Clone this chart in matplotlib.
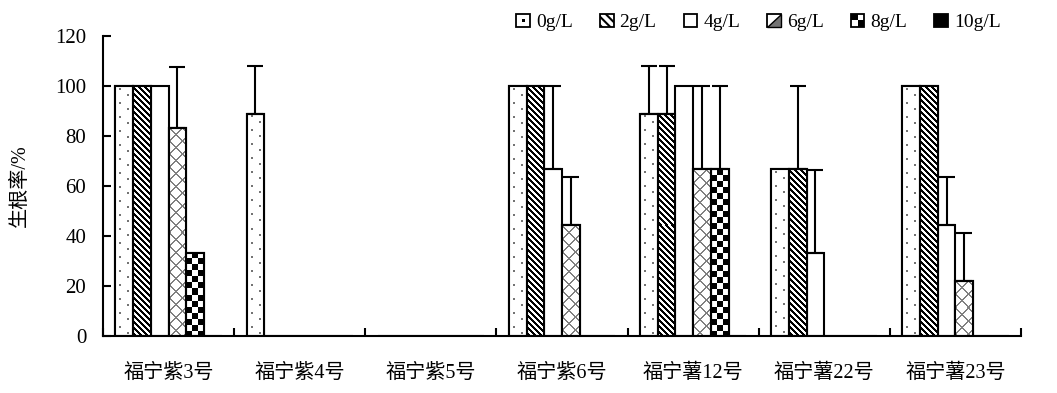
import numpy as np
import matplotlib
matplotlib.use('Agg')
import matplotlib.pyplot as plt
from matplotlib.patches import Rectangle, Patch, Polygon
from matplotlib.legend_handler import HandlerBase

plt.rcParams['font.family'] = ['Liberation Serif', 'Noto Sans CJK SC']
plt.rcParams['hatch.linewidth'] = 1.5

groups = ['福宁紫3号', '福宁紫4号', '福宁紫5号', '福宁紫6号', '福宁薯12号', '福宁薯22号', '福宁薯23号']
labels = ['0g/L', '2g/L', '4g/L', '6g/L', '8g/L', '10g/L']

r0 = [100, 88.9, 0, 100, 88.9, 66.7, 100]
r2 = [100, 0, 0, 100, 88.9, 66.7, 100]
r4 = [100, 0, 0, 66.7, 100, 33.3, 44.4]
r6 = [83.3, 0, 0, 44.4, 66.7, 0, 22.2]
r8 = [33.3, 0, 0, 0, 66.7, 0, 0]
r10 = [0, 0, 0, 0, 0, 0, 0]

e0 = [0, 19.2, 0, 0, 19.2, 0, 0]
e2 = [0, 0, 0, 0, 19.2, 33.3, 0]
e4 = [0, 0, 0, 33.3, 0, 33.3, 19.2]
e6 = [24.5, 0, 0, 19.2, 33.3, 0, 19.2]
e8 = [0, 0, 0, 0, 33.3, 0, 0]
e10 = [0, 0, 0, 0, 0, 0, 0]

series = [r0, r2, r4, r6, r8, r10]
errors = [e0, e2, e4, e6, e8, e10]
faces = ['white', 'white', 'white', 'white', 'white', 'black']


# pixel patterns (rows from top, cols from left) -> grey level
def dots(r, c):
    nc = c.shape[1]
    a = ((r % 14) // 2 == 1) & ((c - nc // 4) // 2 == 0)
    b = ((r % 14) // 2 == 4) & ((c - 3 * nc // 4 + 1) // 2 == 0)
    return np.where(a | b, 0.45, 1.0)


def stripes(r, c):
    return np.where((r - c) % 6 < 3, 0.0, 1.0)


def cross(r, c):
    return np.where(((r + c) % 13 < 2) | ((r - c) % 13 < 2), 0.5, 1.0)


def checker(r, c):
    return np.where((r // 6 + c // 6) % 2 == 0, 1.0, 0.0)


patterns = [dots, stripes, None, cross, checker, None]

fig = plt.figure(figsize=(10.57, 3.93), dpi=100)
ax = fig.add_axes([103 / 1057, 1 - 336 / 393, (1021 - 103) / 1057, 300 / 393])
ax.set_xlim(-0.5, len(groups) - 0.5)
ax.set_ylim(0, 120)


def texture(b, fn):
    h = b.get_height()
    if h <= 0:
        return
    x0, bw = b.get_x(), b.get_width()
    p0 = ax.transData.transform((x0, 0))
    p1 = ax.transData.transform((x0 + bw, h))
    nc = max(int(round(p1[0] - p0[0])), 1)
    nr = max(int(round(p1[1] - p0[1])), 1)
    r, c = np.indices((nr, nc))
    im = ax.imshow(fn(r, c), cmap='gray', vmin=0, vmax=1, extent=[x0, x0 + bw, 0, h],
                   interpolation='nearest', aspect='auto', zorder=2.5)
    im.set_clip_path(b)
    ax.add_patch(Rectangle((x0, 0), bw, h, fill=False, edgecolor='black', linewidth=1.5, zorder=3))


x = np.arange(len(groups))
w = 0.135
handles = []
for i, (vals, errs) in enumerate(zip(series, errors)):
    pos = x + (i - 2.5) * w
    bars = ax.bar(pos, vals, w, color=faces[i], edgecolor='black', linewidth=1.5, zorder=2)
    if patterns[i] is not None:
        for b in bars:
            texture(b, patterns[i])
    errs = np.array(errs)
    m = errs > 0
    if m.any():
        ax.errorbar(pos[m], np.array(vals)[m], yerr=[np.zeros(m.sum()), errs[m]],
                    fmt='none', ecolor='black', elinewidth=1.5, capsize=6, capthick=1.5, zorder=4)
    handles.append(Patch(facecolor=faces[i], edgecolor='black', label=labels[i]))


class IconHandler(HandlerBase):
    def __init__(self, kind):
        super().__init__()
        self.kind = kind

    def create_artists(self, legend, orig_handle, xd, yd, width, height, fontsize, trans):
        s = min(width, height)
        x0, y0 = -xd, -yd
        fc = 'black' if self.kind == 'solid' else 'white'
        out = [Rectangle((x0, y0), s, s, facecolor=fc, edgecolor='black', lw=1.3, transform=trans)]
        if self.kind == 'dot':
            d = s * 0.2
            out.append(Rectangle((x0 + s / 2 - d / 2, y0 + s / 2 - d / 2), d, d,
                                 facecolor='black', lw=0, transform=trans))
        elif self.kind == 'stripe':
            out[0].set_hatch('\\\\\\\\')
        elif self.kind == 'cross':
            out.append(Polygon([(x0, y0), (x0 + s, y0), (x0 + s, y0 + s)], closed=True,
                               facecolor='0.45', edgecolor='black', lw=1.0, transform=trans))
        elif self.kind == 'checker':
            out.append(Rectangle((x0, y0 + s / 2), s / 2, s / 2, facecolor='black', lw=0, transform=trans))
            out.append(Rectangle((x0 + s / 2, y0), s / 2, s / 2, facecolor='black', lw=0, transform=trans))
        return out


kinds = ['dot', 'stripe', 'plain', 'cross', 'checker', 'solid']
handler_map = {h: IconHandler(k) for h, k in zip(handles, kinds)}

ax.set_yticks(np.arange(0, 121, 20))
ax.set_xticks(x)
ax.set_xticklabels(groups, fontsize=14.5)
ax.set_xticks(np.arange(len(groups) + 1) - 0.5, minor=True)
ax.tick_params(axis='x', which='major', length=0, pad=20)
ax.tick_params(axis='x', which='minor', direction='in', length=6, width=1.5)
ax.tick_params(axis='y', direction='in', length=6, width=1.5, labelsize=15, pad=12)
for s in ['top', 'right']:
    ax.spines[s].set_visible(False)
for s in ['left', 'bottom']:
    ax.spines[s].set_linewidth(1.5)
ax.set_ylabel('生根率/%', fontsize=14.5, labelpad=18)

fig.legend(handles, labels, handler_map=handler_map, loc='upper right', ncol=6,
           bbox_to_anchor=(1018 / 1057, 1.01), frameon=False, fontsize=14,
           handlelength=0.7, handleheight=0.7, handletextpad=0.3, columnspacing=1.4)

fig.savefig('out.png', dpi=100)
